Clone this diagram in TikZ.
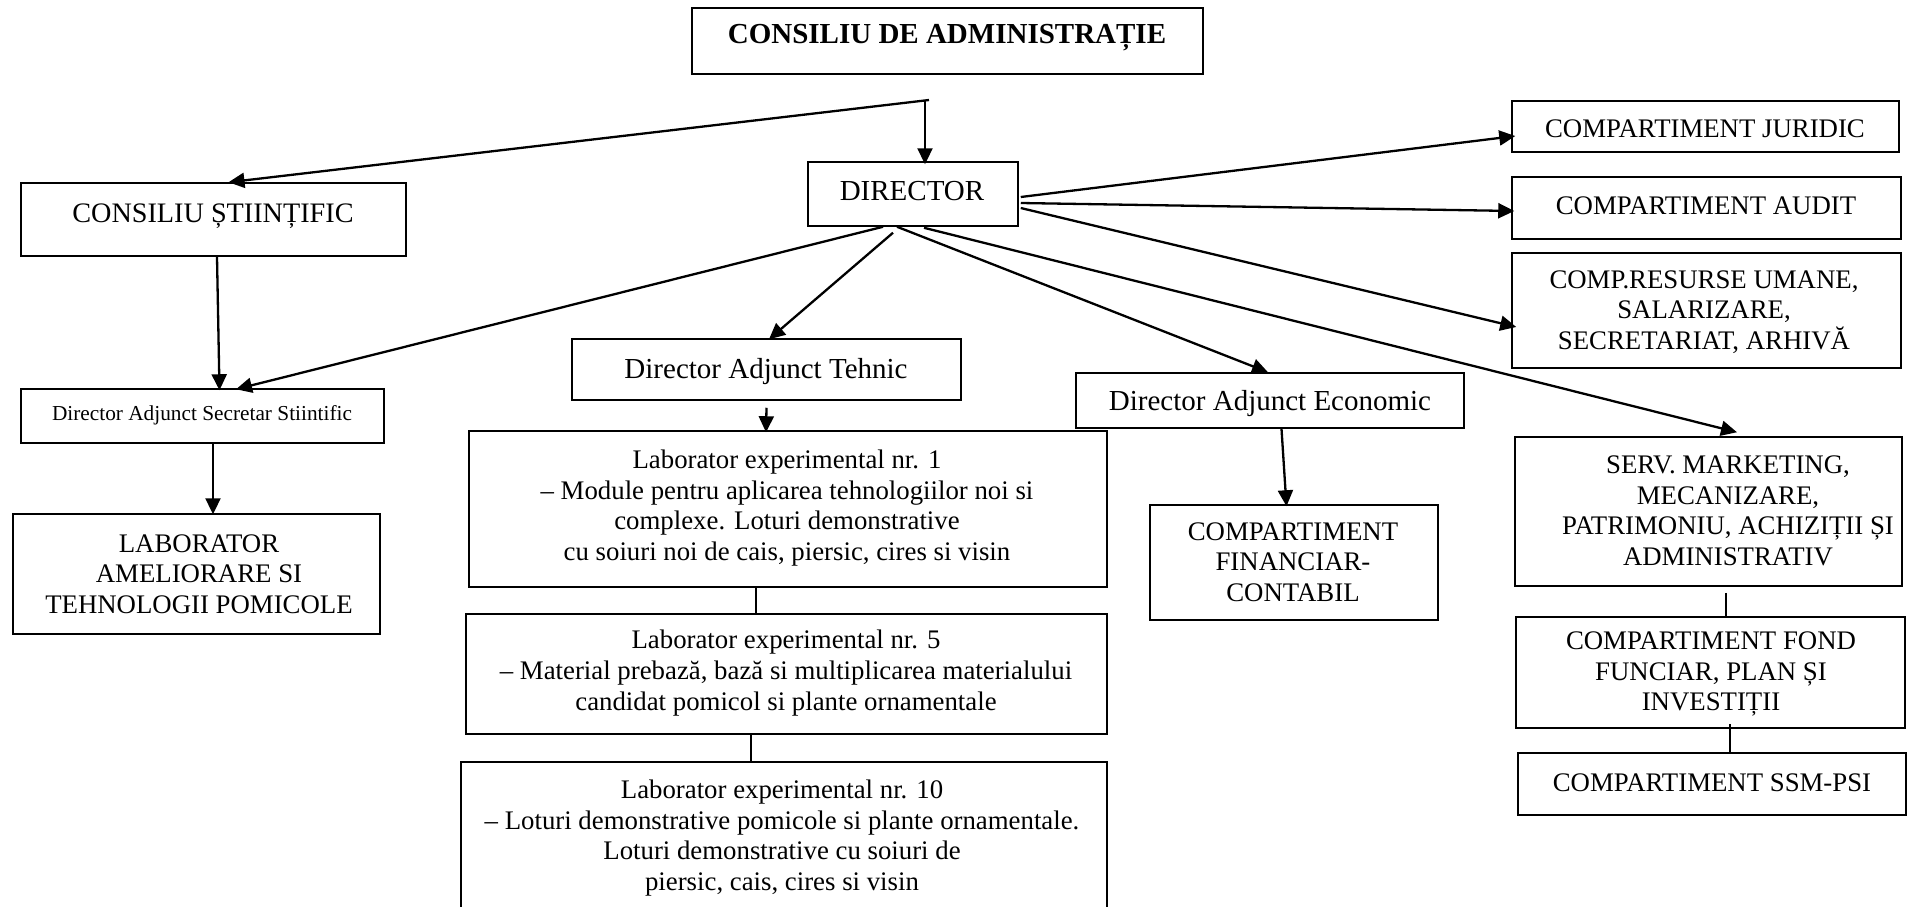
\documentclass[tikz,border=0pt]{standalone}
\usepackage{fontspec}
\setmainfont{Liberation Serif}
\usetikzlibrary{arrows.meta,calc,fit}
\begin{document}
\begin{tikzpicture}[x=0.5pt,y=-0.5pt,
  box/.style={draw, line width=0.75pt, inner sep=0pt},
  txt/.style={align=center, inner sep=0pt, font=\fontsize{13.4pt}{15.3pt}\selectfont},
  big/.style={align=center, inner sep=0pt, font=\fontsize{14.5pt}{16.7pt}\selectfont},
  arr/.style={-{Triangle[length=8pt,width=7.5pt]}, line width=1.15pt},
  plainln/.style={line width=0.65pt}]
\useasboundingbox (0,0) rectangle (1908,906);
\clip (0,0) rectangle (1908,906);
\fill[white] (0,0) rectangle (1908,906);

% boxes
\node[box, fit={(692,8) (1203,74)}] (cda) {};
\node[big, font=\fontsize{14.5pt}{16.7pt}\selectfont\bfseries] (cdat) at (947,38) {CONSILIU DE ADMINISTRAȚIE};

\node[box, fit={(21,183) (406,256)}] (cs) {};
\node[big, font=\fontsize{14.1pt}{16.2pt}\selectfont] (cst) at (213,216) {CONSILIU ȘTIINȚIFIC};

\node[box, fit={(808,162) (1018,226)}] (dir) {};
\node[big] (dirt) at (912,191) {DIRECTOR};

\node[box, fit={(1512,101) (1899,152)}] (jur) {};
\node[txt] (jurt) at (1705,129) {COMPARTIMENT JURIDIC};

\node[box, fit={(1512,177) (1901,239)}] (aud) {};
\node[txt] (audt) at (1706,206) {COMPARTIMENT AUDIT};

\node[box, fit={(1512,253) (1901,368)}] (res) {};
\node[txt] (rest) at (1704,312) {COMP.RESURSE UMANE,\\SALARIZARE,\\SECRETARIAT, ARHIVĂ};

\node[box, fit={(572,339) (961,400)}] (dat) {};
\node[big] (datt) at (766,372) {Director Adjunct Tehnic};

\node[box, fit={(1076,373) (1464,428)}] (dae) {};
\node[big] (daet) at (1270,404) {Director Adjunct Economic};

\node[box, fit={(21,389) (384,443)}] (das) {};
\node[txt, font=\fontsize{10.65pt}{12.2pt}\selectfont] (dast) at (202,415) {Director Adjunct Secretar Stiintific};

\node[box, fit={(13,514) (380,634)}] (lab) {};
\node[txt] (labt) at (199,574) {LABORATOR\\AMELIORARE SI\\TEHNOLOGII POMICOLE};

\node[box, fit={(469,431) (1107,587)}] (l1) {};
\node[txt] (l1t) at (787,508) {Laborator experimental nr. 1\\– Module pentru aplicarea tehnologiilor noi si\\complexe. Loturi demonstrative\\cu soiuri noi de cais, piersic, cires si visin};

\node[box, fit={(466,614) (1107,734)}] (l5) {};
\node[txt] (l5t) at (786,673) {Laborator experimental nr. 5\\– Material prebază, bază si multiplicarea materialului\\candidat pomicol si plante ornamentale};

\node[box, fit={(461,762) (1107,930)}] (l10) {};
\node[txt] (l10t) at (782,838) {Laborator experimental nr. 10\\– Loturi demonstrative pomicole si plante ornamentale.\\Loturi demonstrative cu soiuri de\\piersic, cais, cires si visin};

\node[box, fit={(1150,505) (1438,620)}] (fin) {};
\node[txt] (fint) at (1293,562) {COMPARTIMENT\\FINANCIAR-\\CONTABIL};

\node[box, fit={(1515,437) (1902,586)}] (serv) {};
\node[txt] (servt) at (1728,511) {SERV. MARKETING,\\MECANIZARE,\\PATRIMONIU, ACHIZIȚII ȘI\\ADMINISTRATIV};

\node[box, fit={(1516,617) (1905,728)}] (fond) {};
\node[txt] (fondt) at (1711,674) {COMPARTIMENT FOND\\FUNCIAR, PLAN ȘI\\INVESTIȚII};

\node[box, fit={(1518,753) (1906,815)}] (ssm) {};
\node[txt] (ssmt) at (1712,783) {COMPARTIMENT SSM-PSI};

% split point below the board
\coordinate (split) at (925,100);

% connectors
\draw[arr] (split) -- ($(dir.north)+(12,3)$);
\draw[arr] ($(split)+(4,0)$) -- ($(cs.north)+(15,0)$);

\draw[arr] ($(dir.south)+(-30,0)$) -- ($(das.north)+(33.5,1)$);
\draw[arr] ($(dir.south)+(-20,6)$) -- ($(dat.north)+(2.5,1)$);
\draw[arr] ($(dir.south)+(-16,0)$) -- ($(dae.north)+(-2,0)$);
\draw[arr] ($(dir.south)+(11,1)$) -- ($(serv.north)+(28.5,-4)$);
\draw[arr] ($(dir.east)+(2,3)$) -- ($(jur.west)+(4,9.5)$);
\draw[arr] ($(dir.east)+(2,9)$) -- ($(aud.west)+(3,3)$);
\draw[arr] ($(dir.east)+(2,14)$) -- ($(res.west)+(5,16.5)$);

\draw[arr] ($(cs.south)+(3.5,0)$) -- ($(das.north)+(17,2)$);
\draw[arr] ($(das.south)+(10.5,0)$) -- ($(lab.north)+(16.5,1)$);
\draw[arr] ($(dat.south)+(0,7)$) -- ($(l1.north)+(-22,2)$);
\draw[arr] ($(dae.south)+(11.5,0)$) -- ($(fin.north)+(-7.5,2)$);

\draw[plainln] ($(l1.south)+(-32,0)$) -- ($(l5.north)+(-30.5,0)$);
\draw[plainln] ($(l5.south)+(-35.5,0)$) -- ($(l10.north)+(-33,0)$);
\draw[plainln] ($(serv.south)+(17.5,6)$) -- ($(fond.north)+(15.5,0)$);
\draw[plainln] ($(fond.south)+(19.5,-5)$) -- ($(ssm.north)+(18,0)$);
\end{tikzpicture}
\end{document}
